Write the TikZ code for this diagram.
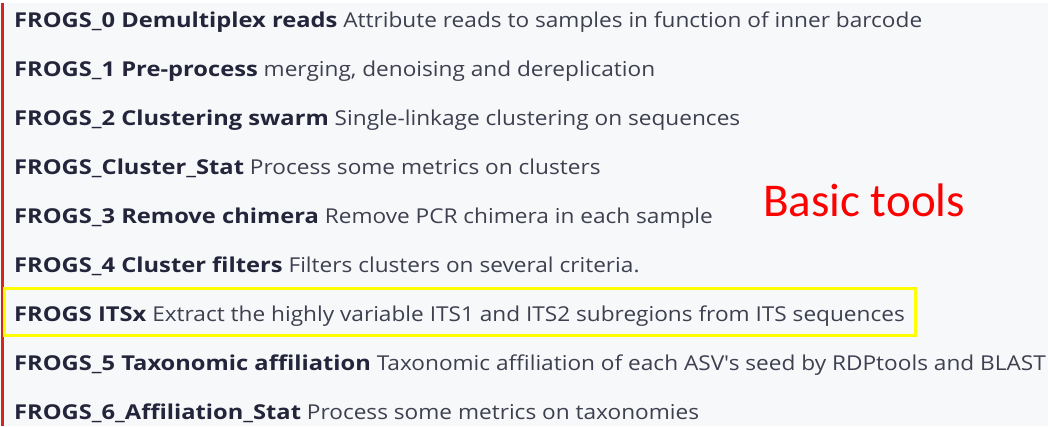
\documentclass[tikz,border=0pt]{standalone}
\usepackage{fontspec}
\setmainfont{Open Sans}[FakeStretch=1.104, BoldFeatures={FakeStretch=1.156}]
\newfontfamily\calib{Carlito}
\definecolor{bg}{HTML}{F6F8FA}
\definecolor{redline}{HTML}{D0281C}
\definecolor{boldtxt}{HTML}{24253A}
\definecolor{txt}{HTML}{3E3F4F}
\definecolor{hl}{HTML}{FFFF00}
\newcommand{\tl}[1]{\textbf{\color{boldtxt}#1}}
\begin{document}
\begin{tikzpicture}[x=1pt,y=-1pt]
\tikzset{row/.style={anchor=base west, inner sep=0pt, text=txt, font=\fontsize{20.5}{24}\selectfont}}
\useasboundingbox (0,0) rectangle (1048,426);
\fill[white] (0,0) rectangle (1048,426);
\fill[bg] (0,3) rectangle (1048,426);
\fill[redline] (1,3) rectangle (3.5,426);
\node[row] (r0) at (14,27.8) {\tl{FROGS\_0 Demultiplex reads} Attribute reads to samples in function of inner barcode};
\node[row] (r1) at (14,76.7) {\tl{FROGS\_1 Pre-process} merging, denoising and dereplication};
\node[row] (r2) at (14,125.6) {\tl{FROGS\_2 Clustering swarm} Single-linkage clustering on sequences};
\node[row] (r3) at (14,174.5) {\tl{FROGS\_Cluster\_Stat} Process some metrics on clusters};
\node[row] (r4) at (14,223.4) {\tl{FROGS\_3 Remove chimera} Remove PCR chimera in each sample};
\node[row] (r5) at (14,272.3) {\tl{FROGS\_4 Cluster filters} Filters clusters on several criteria.};
\node[row] (r6) at (14,321.2) {\tl{FROGS ITSx} Extract the highly variable ITS1 and ITS2 subregions from ITS sequences};
\node[row] (r7) at (14,370.1) {\tl{FROGS\_5 Taxonomic affiliation} Taxonomic affiliation of each ASV\textquotesingle s seed by RDPtools and BLAST};
\node[row] (r8) at (14,419.0) {\tl{FROGS\_6\_Affiliation\_Stat} Process some metrics on taxonomies};
\draw[hl, line width=3pt] (4,288) rectangle (915,335);
\node[anchor=base west, inner sep=0pt, text=red, font=\calib\fontsize{47}{50}\selectfont] (bt) at (763,216) {Basic tools};
\end{tikzpicture}
\end{document}
